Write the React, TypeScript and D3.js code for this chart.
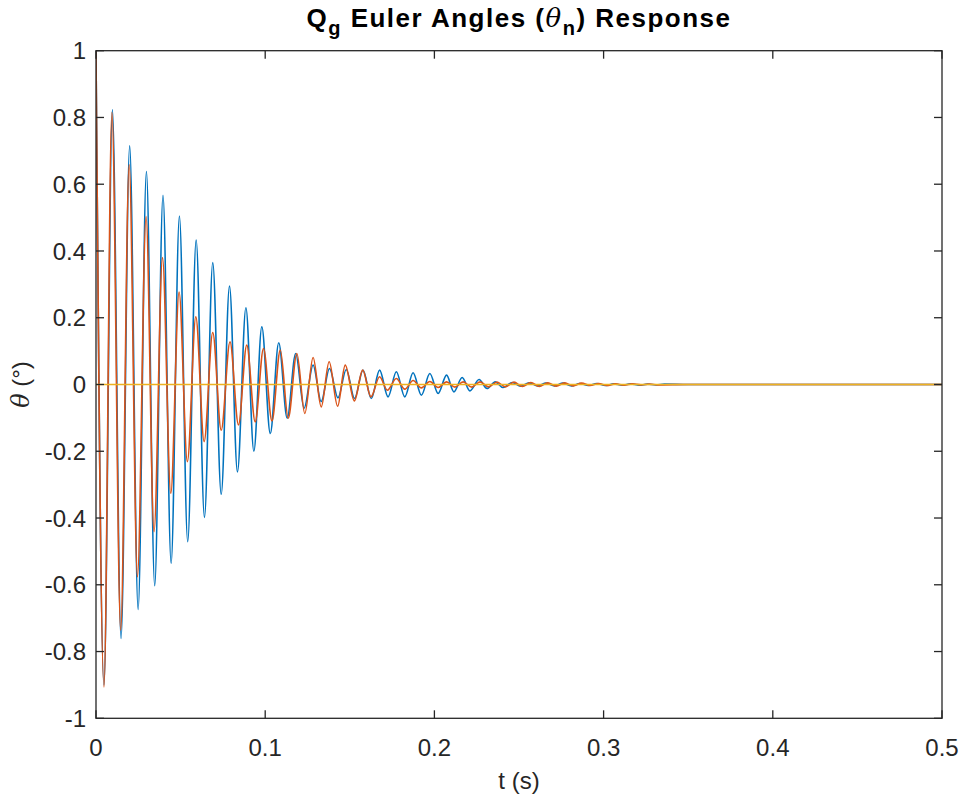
import React from "react";
import * as d3 from "d3";

// ---- data ----
const xTicks = [0, 0.1, 0.2, 0.3, 0.4, 0.5];
const yTicks = [-1, -0.8, -0.6, -0.4, -0.2, 0, 0.2, 0.4, 0.6, 0.8, 1];

// series 1 (blue): extrema of the response
const blueT = [
  0.0, 0.0047, 0.0097, 0.0148, 0.0199, 0.0249, 0.0298, 0.0347, 0.0396, 0.0444,
  0.0493, 0.0542, 0.0592, 0.0641, 0.069, 0.074, 0.0789, 0.0836, 0.0886, 0.0933,
  0.098, 0.103, 0.108, 0.113, 0.118, 0.123, 0.1283, 0.1331, 0.138, 0.143,
  0.1479, 0.1528, 0.1578, 0.1627, 0.1676, 0.1726, 0.1775, 0.1825, 0.1874, 0.1923,
  0.1973, 0.2022, 0.2072, 0.2115, 0.2164, 0.221, 0.2264, 0.2311, 0.236, 0.2405,
  0.246, 0.251, 0.256, 0.261, 0.266, 0.271, 0.276, 0.281, 0.286, 0.291,
  0.296, 0.301, 0.306, 0.311, 0.316, 0.321, 0.326, 0.331, 0.336, 0.35, 0.5,
];
const blueV = [
  1.0, -0.9, 0.823, -0.761, 0.715, -0.674, 0.638, -0.603, 0.567, -0.536,
  0.505, -0.471, 0.433, -0.398, 0.365, -0.329, 0.295, -0.262, 0.23, -0.2,
  0.173, -0.147, 0.125, -0.101, 0.093, -0.071, 0.058, -0.051, 0.048, -0.04,
  0.045, -0.042, 0.043, -0.042, 0.043, -0.037, 0.038, -0.037, 0.035, -0.032,
  0.033, -0.027, 0.028, -0.022, 0.021, -0.019, 0.015, -0.012, 0.008, -0.009,
  0.006, -0.005, 0.005, -0.004, 0.004, -0.004, 0.004, -0.004, 0.003, -0.003,
  0.003, -0.003, 0.002, -0.002, 0.002, -0.002, 0.001, -0.001, 0.001, 0, 0,
];

// series 2 (orange)
const redT = [
  0.0, 0.0047, 0.0094, 0.0146, 0.0196, 0.0245, 0.0296, 0.0343, 0.0393, 0.0442,
  0.0491, 0.054, 0.059, 0.0639, 0.069, 0.074, 0.0792, 0.0842, 0.0891, 0.0941,
  0.099, 0.104, 0.1089, 0.1136, 0.1187, 0.1234, 0.1283, 0.1331, 0.1378, 0.1428,
  0.1473, 0.1527, 0.1576, 0.1625, 0.1676, 0.1722, 0.1775, 0.1825, 0.1874, 0.1923,
  0.1973, 0.2022, 0.2072, 0.2121, 0.217, 0.222, 0.227, 0.232, 0.237, 0.242,
  0.247, 0.252, 0.257, 0.262, 0.267, 0.272, 0.277, 0.282, 0.287, 0.292,
  0.297, 0.302, 0.307, 0.312, 0.317, 0.322, 0.327, 0.332, 0.35, 0.5,
];
const redV = [
  1.0, -0.906, 0.815, -0.736, 0.658, -0.576, 0.503, -0.441, 0.38, -0.326,
  0.277, -0.231, 0.203, -0.171, 0.156, -0.137, 0.128, -0.121, 0.118, -0.112,
  0.108, -0.109, 0.103, -0.101, 0.093, -0.087, 0.081, -0.067, 0.068, -0.065,
  0.058, -0.049, 0.043, -0.037, 0.023, -0.017, 0.018, -0.014, 0.012, -0.01,
  0.009, -0.009, 0.008, -0.008, 0.008, -0.008, 0.008, -0.007, 0.007, -0.007,
  0.007, -0.006, 0.006, -0.006, 0.005, -0.005, 0.005, -0.004, 0.004, -0.003,
  0.003, -0.003, 0.002, -0.002, 0.002, -0.001, 0.001, -0.001, 0, 0,
];

// series 3 (yellow)
const yellowT = [0, 0.5];
const yellowV = [0, 0];

const seriesColors = ["#0072BD", "#D95319", "#EDB120"];

// ---- layout ----
const W = 960;
const H = 804;
const M = { left: 96, right: 18, top: 50.7, bottom: 85.7 };
const FONT = "'Liberation Sans', Arial, Helvetica, sans-serif";
const AXIS = "#262626";

export default function App() {
  const x = d3.scaleLinear().domain([0, 0.5]).range([M.left, W - M.right]);
  const y = d3.scaleLinear().domain([-1, 1]).range([H - M.bottom, M.top]);
  const line = d3
    .line<[number, number]>()
    .x((d) => x(d[0]))
    .y((d) => y(d[1]))
    .curve(d3.curveMonotoneX);

  const series = [
    { t: blueT, v: blueV },
    { t: redT, v: redV },
    { t: yellowT, v: yellowV },
  ];

  const x0 = x(0), x1 = x(0.5), y0 = y(-1), y1 = y(1);
  const tl = 8;

  return (
    <svg
      width={W}
      height={H}
      style={{ position: "absolute", left: 0, top: 0, background: "#fff" }}
      fontFamily={FONT}
    >
      <rect x={0} y={0} width={W} height={H} fill="#fff" />
      <defs>
        <clipPath id="plotclip">
          <rect x={x0} y={y1 - 2} width={x1 - x0} height={y0 - y1 + 4} />
        </clipPath>
      </defs>
      <g clipPath="url(#plotclip)">
        {series.map((s, i) => (
          <path
            key={i}
            d={line(s.t.map((t, j) => [t, s.v[j]] as [number, number])) || ""}
            fill="none"
            stroke={seriesColors[i]}
            strokeWidth={1.6}
            strokeLinejoin="round"
          />
        ))}
      </g>
      {/* box */}
      <rect x={x0} y={y1} width={x1 - x0} height={y0 - y1} fill="none" stroke={AXIS} strokeWidth={1.3} />
      {/* y ticks */}
      {yTicks.map((v) => (
        <g key={"y" + v}>
          <line x1={x0} x2={x0 + tl} y1={y(v)} y2={y(v)} stroke={AXIS} strokeWidth={1.3} />
          <line x1={x1} x2={x1 - tl} y1={y(v)} y2={y(v)} stroke={AXIS} strokeWidth={1.3} />
          <text x={x0 - 10} y={y(v)} dy="0.36em" textAnchor="end" fontSize={24} fill={AXIS}>
            {String(v)}
          </text>
        </g>
      ))}
      {/* x ticks */}
      {xTicks.map((v) => (
        <g key={"x" + v}>
          <line x1={x(v)} x2={x(v)} y1={y0} y2={y0 - tl} stroke={AXIS} strokeWidth={1.3} />
          <line x1={x(v)} x2={x(v)} y1={y1} y2={y1 + tl} stroke={AXIS} strokeWidth={1.3} />
          <text x={x(v)} y={y0 + 38} textAnchor="middle" fontSize={24} fill={AXIS}>
            {String(v)}
          </text>
        </g>
      ))}
      {/* x label */}
      <text x={(x0 + x1) / 2} y={y0 + 71} textAnchor="middle" fontSize={24} fill={AXIS}>
        t (s)
      </text>
      {/* y label */}
      <text
        transform={`translate(29, ${(y0 + y1) / 2}) rotate(-90)`}
        textAnchor="middle"
        fontSize={24}
        fill={AXIS}
      >
        <tspan fontStyle="italic" fontFamily="'DejaVu Serif', serif">θ</tspan>
        <tspan> (°)</tspan>
      </text>
      {/* title */}
      <text
        x={(x0 + x1) / 2}
        y={27}
        textAnchor="middle"
        fontSize={26}
        letterSpacing={1.5}
        fontWeight="bold"
        fill="#000"
      >
        <tspan>Q</tspan>
        <tspan fontSize={20} dy={8}>g</tspan>
        <tspan dy={-8}> Euler Angles (</tspan>
        <tspan fontStyle="italic" fontWeight="normal" fontFamily="'DejaVu Serif', serif">θ</tspan>
        <tspan fontSize={20} dy={8}>n</tspan>
        <tspan dy={-8}>) Response</tspan>
      </text>
    </svg>
  );
}
